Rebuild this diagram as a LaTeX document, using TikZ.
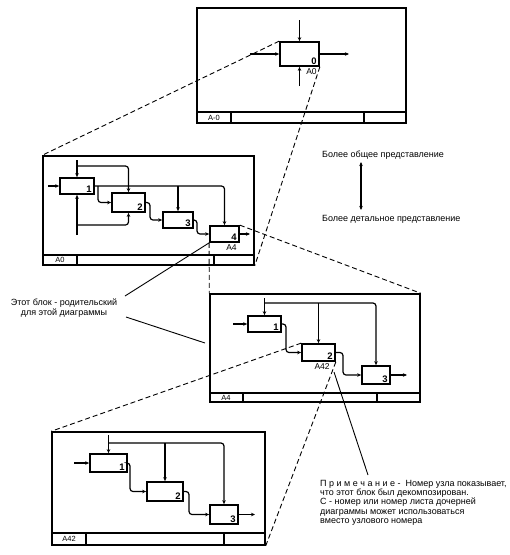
\documentclass[tikz,border=0pt]{standalone}
\usepackage{fontspec}
\setmainfont{Liberation Sans}
\usetikzlibrary{arrows.meta}
\begin{document}
\begin{tikzpicture}[x=1pt,y=-1pt,
  frame/.style={draw,line width=1.5pt,inner sep=0pt,minimum width=#1},
  fbox/.style={draw,line width=1.7pt,inner sep=0pt},
  arr/.style={line width=1.2pt,-{Stealth[length=4pt,width=3.5pt]},rounded corners=3pt},
  dsh/.style={line width=0.9pt,dash pattern=on 5pt off 3pt},
  call/.style={line width=0.9pt},
  num/.style={font=\fontsize{9.5}{9.5}\selectfont\bfseries,inner sep=0pt,anchor=south east},
  lab/.style={font=\fontsize{7.5}{8}\selectfont,inner sep=0pt},
  sub/.style={font=\fontsize{8.5}{9}\selectfont,inner sep=0pt,anchor=north east},
  txt/.style={font=\fontsize{9}{9.3}\selectfont,inner sep=0pt}]
\useasboundingbox (0,0) rectangle (510,555);

% ---------- Frame A-0 ----------
\node (f1) [frame=209pt,minimum height=115pt] at (301.5,65.5) {};
\draw[line width=1.5pt] (197,112) -- (406,112) (231,112) -- (231,123) (364,112) -- (364,123);
\node[lab] (t1) at (214,118) {A-0};
\node (b0) [fbox,minimum width=39pt,minimum height=24pt] at (299.5,54) {};
\node[num] (n0) at ([xshift=-3pt,yshift=2.5pt]b0.south east) {0};
\node[sub] (l0) at ([xshift=-3pt,yshift=-2pt]b0.south east) {A0};
\coordinate (i0) at (250,54);
\coordinate (o0) at (349,54);
\coordinate (c0) at (299.5,20);
\coordinate (m0) at (299.5,86);
\draw[arr] (i0) -- (b0.west);
\draw[arr] (b0.east) -- (o0);
\draw[arr] (c0) -- (b0.north);
\draw[arr] (m0) -- (b0.south);

% ---------- Frame A0 ----------
\node (f2) [frame=211pt,minimum height=109pt] at (148.5,210.5) {};
\draw[line width=1.5pt] (43,255) -- (254,255) (77,255) -- (77,265) (214,255) -- (214,265);
\node[lab] (t2) at (60,260) {A0};
\node (a1) [fbox,minimum width=34pt,minimum height=16pt] at (77,186) {};
\node (a2) [fbox,minimum width=33pt,minimum height=19pt] at (128.5,202.5) {};
\node (a3) [fbox,minimum width=30pt,minimum height=16pt] at (178,220) {};
\node (a4) [fbox,minimum width=29pt,minimum height=16pt] at (224.5,234) {};
\node[num] at ([xshift=-3pt,yshift=2.5pt]a1.south east) {1};
\node[num] at ([xshift=-3pt,yshift=2.5pt]a2.south east) {2};
\node[num] at ([xshift=-3pt,yshift=2.5pt]a3.south east) {3};
\node[num] at ([xshift=-3pt,yshift=2.5pt]a4.south east) {4};
\node[sub] (l4) at ([xshift=-3pt,yshift=-2pt]a4.south east) {A4};
\coordinate (ai) at (48,186);
\coordinate (ac) at (77,160);
\coordinate (am) at (77,235);
\coordinate (ao) at (250,234);
\draw[arr] (ai) -- (a1.west);
\draw[arr] (ac) -- (a1.north);
\draw[arr] (77,166) -- (128.5,166) -- (a2.north);
\draw[arr] (am) -- (a1.south);
\draw[arr] (77,225) -- (128.5,225) -- (a2.south);
\draw[arr] (a1.east) -- (224.5,186) -- (a4.north);
\draw[arr] (178,186) -- (a3.north);
\draw[arr] (98,186) -- (98,202.5) -- (a2.west);
\draw[arr] (a2.east) -- (150,202.5) -- (150,220) -- (a3.west);
\draw[arr] (a3.east) -- (197,220) -- (197,234) -- (a4.west);
\draw[arr] (a4.east) -- (ao);

% ---------- Frame A4 ----------
\node (f3) [frame=210pt,minimum height=108pt] at (315,348) {};
\draw[line width=1.5pt] (210,393) -- (420,393) (243,393) -- (243,402) (377,393) -- (377,402);
\node[lab] (t3) at (226,398) {A4};
\node (c1) [fbox,minimum width=33pt,minimum height=16pt] at (264.5,324) {};
\node (c2) [fbox,minimum width=33pt,minimum height=17pt] at (318.5,352.5) {};
\node (c3) [fbox,minimum width=28pt,minimum height=18pt] at (376,375) {};
\node[num] at ([xshift=-3pt,yshift=2.5pt]c1.south east) {1};
\node[num] at ([xshift=-3pt,yshift=2.5pt]c2.south east) {2};
\node[num] at ([xshift=-3pt,yshift=2.5pt]c3.south east) {3};
\node[sub] (l42) at ([xshift=-6pt,yshift=-2pt]c2.south east) {A42};
\coordinate (ci) at (233,324);
\coordinate (cc) at (264.5,298);
\coordinate (co) at (407,375);
\draw[arr] (ci) -- (c1.west);
\draw[arr] (cc) -- (c1.north);
\draw[arr] (264.5,303) -- (376,303) -- (c3.north);
\draw[arr] (318.5,303) -- (c2.north);
\draw[arr] (c1.east) -- (286,324) -- (286,352.5) -- (c2.west);
\draw[arr] (c2.east) -- (343,352.5) -- (343,375) -- (c3.west);
\draw[arr] (c3.east) -- (co);

% ---------- Frame A42 ----------
\node (f4) [frame=213pt,minimum height=113pt] at (158.5,488.5) {};
\draw[line width=1.5pt] (52,533) -- (265,533) (86,533) -- (86,545) (224,533) -- (224,545);
\node[lab] (t4) at (69,539) {A42};
\node (d1) [fbox,minimum width=37pt,minimum height=18pt] at (108.5,463) {};
\node (d2) [fbox,minimum width=36pt,minimum height=19pt] at (165,491.5) {};
\node (d3) [fbox,minimum width=28pt,minimum height=19pt] at (224,514.5) {};
\node[num] at ([xshift=-3pt,yshift=2.5pt]d1.south east) {1};
\node[num] at ([xshift=-3pt,yshift=2.5pt]d2.south east) {2};
\node[num] at ([xshift=-3pt,yshift=2.5pt]d3.south east) {3};
\coordinate (di) at (74,463);
\coordinate (dc) at (108.5,435);
\coordinate (do) at (255,514.5);
\draw[arr] (di) -- (d1.west);
\draw[arr] (dc) -- (d1.north);
\draw[arr] (108.5,443) -- (224,443) -- (d3.north);
\draw[arr] (165,443) -- (d2.north);
\draw[arr] (d1.east) -- (130,463) -- (130,491.5) -- (d2.west);
\draw[arr] (d2.east) -- (189,491.5) -- (189,514.5) -- (d3.west);
\draw[arr] (d3.east) -- (do);

% ---------- dashed decomposition lines ----------
\draw[dsh] (b0.north west) -- (f2.north west);
\draw[dsh] (b0.south east) -- (f2.south east);
\draw[dsh] (a4.north east) -- (f3.north east);
\draw[dsh] (a4.south west) -- (f3.north west);
\draw[dsh] (c2.north west) -- (f4.north west);
\draw[dsh] (c2.south east) -- (f4.south east);

% ---------- texts ----------
\node[txt,anchor=west] (g1) at (322,155) {Более общее представление};
\node[txt,anchor=west] (g2) at (322,219) {Более детальное представление};
\draw[line width=1.2pt,{Stealth[length=4pt,width=3.5pt]}-{Stealth[length=4pt,width=3.5pt]}] (361,162) -- (361,210);

\node[txt,align=center] (par) at (64,308) {Этот блок - родительский\\для этой диаграммы};
\coordinate (p1) at (125,296);
\coordinate (p2) at (126,317);
\coordinate (p3) at (205,343);
\draw[call] (p1) -- (a4.south west);
\draw[call] (p2) -- (p3);

\node[txt,align=left,anchor=north west] (note) at (320,480) {П р и м е ч а н и е -\ \ Номер узла показывает,\\что этот блок был декомпозирован.\\С - номер или номер листа дочерней\\диаграммы может использоваться\\вместо узлового номера};
\coordinate (q1) at (368,475);
\coordinate (q2) at (334,372);
\draw[call] (q1) -- (q2);
\end{tikzpicture}
\end{document}
